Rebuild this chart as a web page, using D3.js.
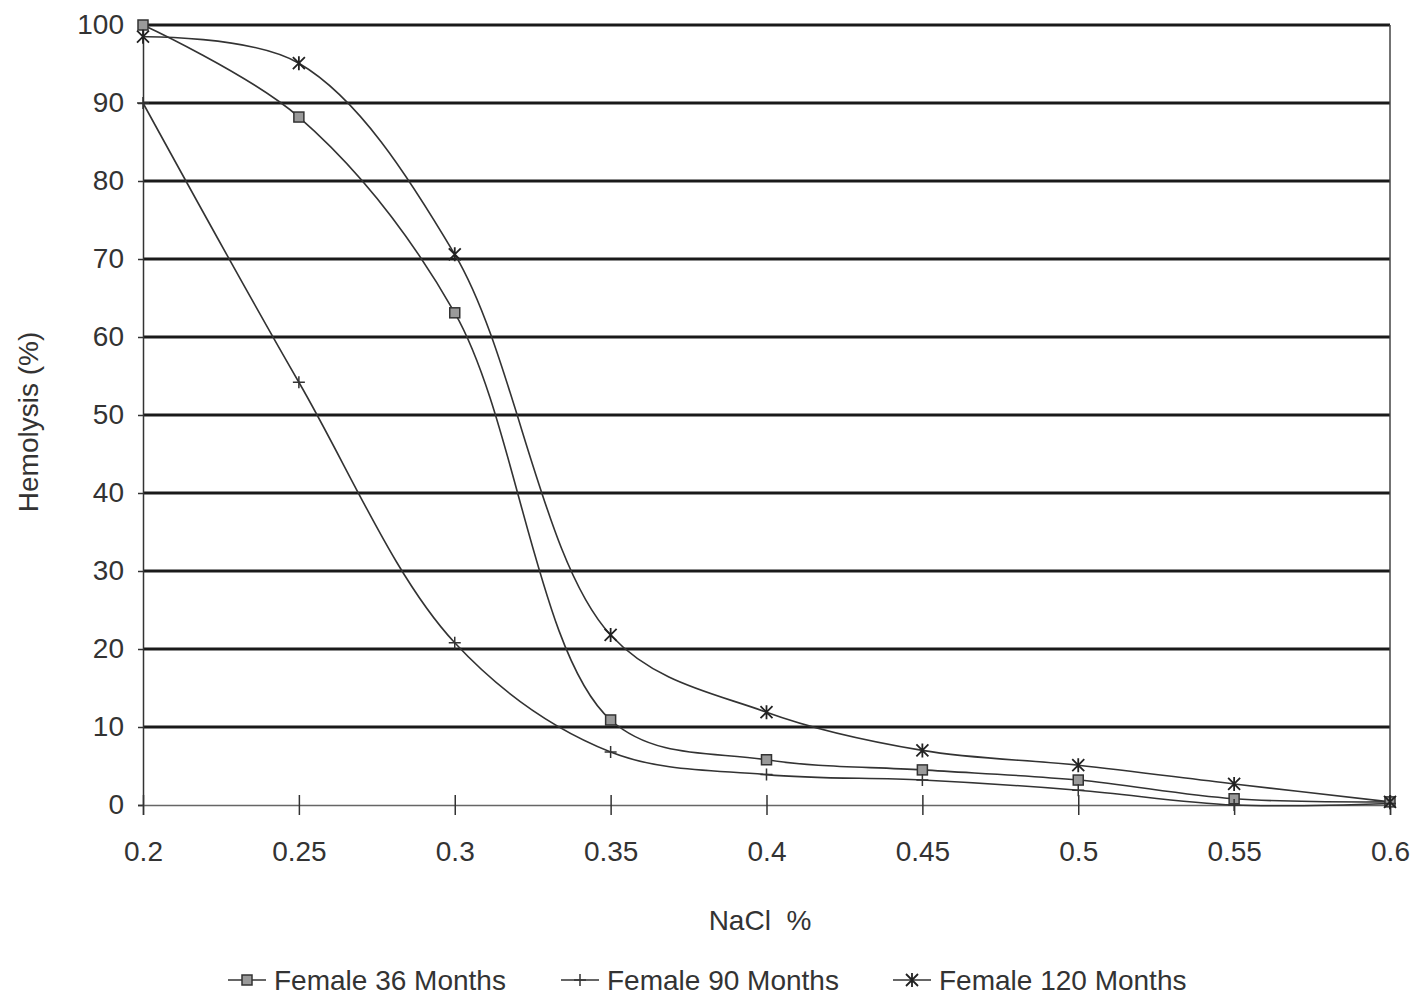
<!DOCTYPE html>
<html><head><meta charset="utf-8">
<script src="https://cdn.jsdelivr.net/npm/d3@7"></script>
<style>body{margin:0;background:#fff}svg{display:block}text{font-family:"Liberation Sans",Arial,sans-serif;fill:#333}</style>
</head><body>
<script>
const nacl = [0.2, 0.25, 0.3, 0.35, 0.4, 0.45, 0.5, 0.55, 0.6];
const female36 = [100, 88.2, 63.1, 10.9, 5.8, 4.5, 3.2, 0.8, 0.4];
const female90 = [90, 54.2, 20.8, 6.8, 3.9, 3.2, 1.9, 0, 0.2];
const female120 = [98.5, 95.1, 70.6, 21.8, 11.9, 7.0, 5.1, 2.7, 0.4];
const yTicks = [0,10,20,30,40,50,60,70,80,90,100];
const xTicks = [0.2,0.25,0.3,0.35,0.4,0.45,0.5,0.55,0.6];
const seriesNames = ["Female 36 Months","Female 90 Months","Female 120 Months"];

const W=1420,H=999;
const svg=d3.select("body").append("svg").attr("width",W).attr("height",H);
const x=d3.scaleLinear().domain([0.2,0.6]).range([143,1390]);
const y=d3.scaleLinear().domain([0,100]).range([805,25]);

svg.append("g").selectAll("line").data(yTicks.filter(d=>d>0)).join("line")
  .attr("x1",143).attr("x2",1390).attr("y1",d=>y(d)).attr("y2",d=>y(d))
  .attr("stroke","#1a1a1a").attr("stroke-width",3);
svg.append("line").attr("x1",1390).attr("x2",1390).attr("y1",y(100)).attr("y2",y(0)).attr("stroke","#444").attr("stroke-width",1.5);

const ya=svg.append("g").attr("transform","translate(143,0)")
  .call(d3.axisLeft(y).tickValues(yTicks).tickSize(5).tickPadding(14).tickFormat(d3.format("d")));
ya.select(".domain").attr("stroke","#333").attr("stroke-width",1.5);
ya.selectAll(".tick line").attr("stroke","#333").attr("stroke-width",1.5);
ya.selectAll("text").style("font-size","28px").attr("fill","#333");

const xa=svg.append("g").attr("transform","translate(0,805)")
  .call(d3.axisBottom(x).tickValues(xTicks).tickSize(10).tickPadding(26).tickFormat(d=>String(+d.toFixed(2))));
xa.select(".domain").attr("stroke","#666").attr("stroke-width",1.5);
xa.selectAll(".tick line").attr("y1",-10).attr("stroke","#333").attr("stroke-width",1.5);
xa.selectAll("text").style("font-size","28px").attr("fill","#333");

svg.append("text").attr("transform","translate(38,422) rotate(-90)").attr("text-anchor","middle").style("font-size","28px").text("Hemolysis (%)");
svg.append("text").attr("x",760).attr("y",930).attr("text-anchor","middle").style("font-size","28px").attr("xml:space","preserve").text("NaCl  %");

const line=d3.line().x(d=>x(d[0])).y(d=>y(d[1])).curve(d3.curveCatmullRom.alpha(0.5));
const series=[female36,female90,female120];
series.forEach(s=>{
  svg.append("path").datum(nacl.map((v,i)=>[v,s[i]])).attr("d",line)
    .attr("fill","none").attr("stroke","#333").attr("stroke-width",1.6);
});

function marker(g,type,cx,cy){
  if(type===0){
    g.append("rect").attr("x",cx-5).attr("y",cy-5).attr("width",10).attr("height",10)
      .attr("fill","#9a9a9a").attr("stroke","#333").attr("stroke-width",1.5);
  } else if(type===1){
    g.append("path").attr("d",`M${cx-6},${cy}H${cx+6}M${cx},${cy-6}V${cy+6}`).attr("stroke","#333").attr("stroke-width",1.5);
  } else {
    g.append("path").attr("d",`M${cx-6},${cy-6}L${cx+6},${cy+6}M${cx+6},${cy-6}L${cx-6},${cy+6}M${cx},${cy-7}V${cy+7}`).attr("stroke","#222").attr("stroke-width",1.8);
  }
}
const mg=svg.append("g");
series.forEach((s,k)=>nacl.forEach((v,i)=>marker(mg,k,x(v),y(s[i]))));

const lg=svg.append("g");
const lx=[228,561,893];
seriesNames.forEach((n,k)=>{
  lg.append("line").attr("x1",lx[k]).attr("x2",lx[k]+38).attr("y1",980).attr("y2",980).attr("stroke","#333").attr("stroke-width",1.6);
  marker(lg,k,lx[k]+19,980);
  lg.append("text").attr("x",lx[k]+46).attr("y",990).style("font-size","28px").text(n);
});
</script>
</body></html>
